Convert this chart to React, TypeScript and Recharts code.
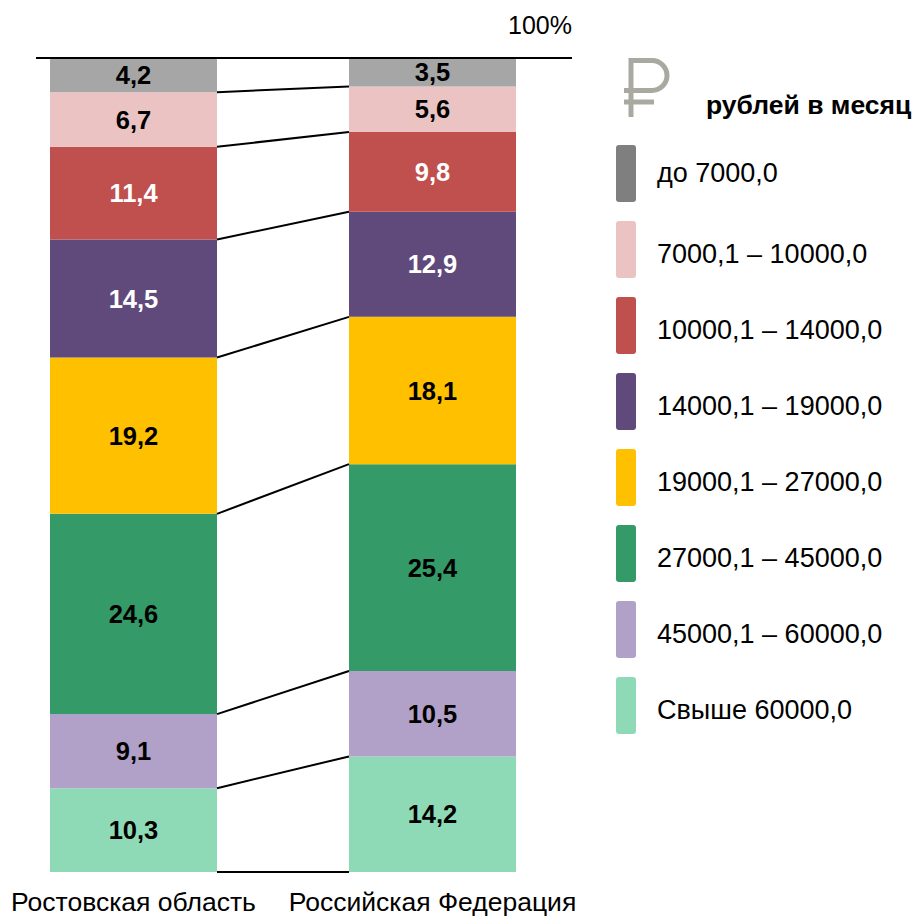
import React from "react";
import { BarChart, Bar, XAxis, YAxis, ReferenceLine, LabelList } from "recharts";

const CATEGORIES = ["Ростовская область", "Российская Федерация"];

// income bands, listed top of the stack first (same order as the legend)
const BANDS = [
  "до 7000,0",
  "7000,1 – 10000,0",
  "10000,1 – 14000,0",
  "14000,1 – 19000,0",
  "19000,1 – 27000,0",
  "27000,1 – 45000,0",
  "45000,1 – 60000,0",
  "Свыше 60000,0",
];
const ROSTOV = [4.2, 6.7, 11.4, 14.5, 19.2, 24.6, 9.1, 10.3];
const RUSSIA = [3.5, 5.6, 9.8, 12.9, 18.1, 25.4, 10.5, 14.2];

const BAR_COLORS = ["#A6A6A6", "#EBC3C2", "#C0504D", "#604A7B", "#FFC000", "#349A67", "#B1A0C7", "#8FDAB6"];
const LEGEND_COLORS = ["#7F7F7F", "#EBC3C2", "#C0504D", "#604A7B", "#FFC000", "#349A67", "#B1A0C7", "#8FDAB6"];
const WHITE_LABEL = [false, false, true, true, false, false, false, false];

const W = 917;
const H = 918;
const PLOT_LEFT = 36;
const PLOT_RIGHT = 572;
const PLOT_TOP = 58;
const PLOT_BOTTOM = 872;
const BAR = 167;
const C1 = 133.5;
const C2 = 432.5;
const U = C2 - C1;
const X_DOMAIN: [number, number] = [(PLOT_LEFT - C1) / U, (PLOT_RIGHT - C1) / U];
const HALF = BAR / 2 / U;
const FONT = "'Liberation Sans', Arial, sans-serif";

const data = CATEGORIES.map((name, i) => {
  const values = i === 0 ? ROSTOV : RUSSIA;
  const row: any = { name, pos: i };
  BANDS.forEach((_, k) => (row["b" + k] = values[k]));
  return row;
});

// stack boundaries from the bottom (0) up to the last one below 100
const boundaries = (arr: number[]) => {
  const out = [0];
  let s = 0;
  [...arr].reverse().slice(0, -1).forEach((v) => {
    s += v;
    out.push(s);
  });
  return out;
};
const CUM_R = boundaries(ROSTOV);
const CUM_F = boundaries(RUSSIA);

const fmt = (v: any) => Number(v).toFixed(1).replace(".", ",");

const CategoryTick = ({ x, y, payload }: any) => (
  <text x={x} y={y} dy={39} textAnchor="middle" fontSize={26.5} fontFamily={FONT} fill="#000">
    {CATEGORIES[payload.value]}
  </text>
);

const Legend = () => (
  <svg width={W} height={H} style={{ position: "absolute", left: 0, top: 0, pointerEvents: "none" }}>
    <g stroke="#A9A9A2" strokeWidth={5} fill="none">
      <path d="M631 58 V117" />
      <path d="M631 60.5 H652 A15 15 0 0 1 652 90.5 H624" />
      <path d="M624 102 H654" />
    </g>
    <text x={706} y={114} fontSize={26.5} fontWeight="bold" fontFamily={FONT} fill="#000">
      рублей в месяц
    </text>
    {BANDS.map((b, i) => (
      <g key={b}>
        <rect x={616} y={145 + 76 * i} width={20} height={57} rx={3} fill={LEGEND_COLORS[i]} />
        <text x={657} y={145 + 76 * i + (i === 0 ? 37 : 42)} fontSize={27} fontFamily={FONT} fill="#000">
          {b}
        </text>
      </g>
    ))}
  </svg>
);

export default function App() {
  const order = BANDS.map((_, k) => k).reverse();
  return (
    <div style={{ position: "absolute", left: 0, top: 0, width: W, height: H, background: "#fff", fontFamily: FONT }}>
      <BarChart
        width={W}
        height={H}
        data={data}
        margin={{ top: PLOT_TOP, right: W - PLOT_RIGHT, left: PLOT_LEFT, bottom: 0 }}
      >
        <XAxis
          dataKey="pos"
          type="number"
          domain={X_DOMAIN}
          ticks={[0, 1]}
          height={H - PLOT_BOTTOM}
          axisLine={false}
          tickLine={false}
          tickSize={0}
          tickMargin={0}
          tick={<CategoryTick />}
        />
        <YAxis hide domain={[0, 100]} />
        {order.map((k) => (
          <Bar key={k} dataKey={"b" + k} stackId="s" fill={BAR_COLORS[k]} barSize={BAR} isAnimationActive={false}>
            <LabelList
              dataKey={"b" + k}
              position="center"
              formatter={fmt}
              fill={WHITE_LABEL[k] ? "#fff" : "#000"}
              fontSize={25.5}
              fontWeight="bold"
              fontFamily={FONT}
            />
          </Bar>
        ))}
        <ReferenceLine
          y={100}
          stroke="#000"
          strokeWidth={2}
          ifOverflow="visible"
          label={({ viewBox }: any) => (
            <text x={viewBox.x + viewBox.width} y={viewBox.y - 24} textAnchor="end" fontSize={25} fontFamily={FONT} fill="#000">
              100%
            </text>
          )}
        />
        {CUM_R.map((v, i) => (
          <ReferenceLine
            key={"c" + i}
            segment={[
              { x: HALF, y: v },
              { x: 1 - HALF, y: CUM_F[i] },
            ]}
            stroke="#000"
            strokeWidth={2}
            ifOverflow="visible"
          />
        ))}
      </BarChart>
      <Legend />
    </div>
  );
}
